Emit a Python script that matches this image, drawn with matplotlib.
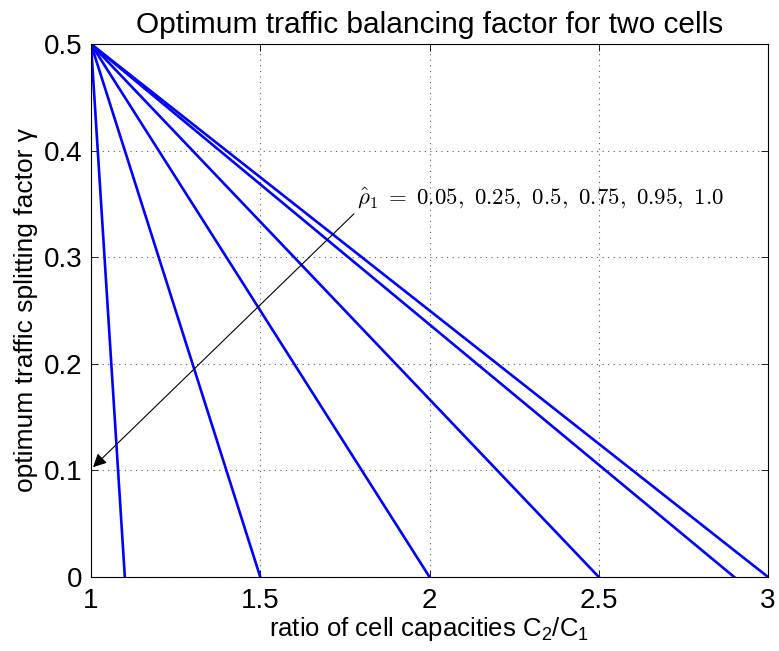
import matplotlib
matplotlib.use("Agg")
import matplotlib.pyplot as plt

rho_labels = ["0.05", "0.25", "0.5", "0.75", "0.95", "1.0"]
ratio_start = [1.0, 1.0, 1.0, 1.0, 1.0, 1.0]
ratio_end = [1.1, 1.5, 2.0, 2.5, 2.9, 3.0]
gamma_start = [0.5, 0.5, 0.5, 0.5, 0.5, 0.5]
gamma_end = [0.0, 0.0, 0.0, 0.0, 0.0, 0.0]
xticks = [1, 1.5, 2, 2.5, 3]
xticklabels = ["1", "1.5", "2", "2.5", "3"]
yticks = [0, 0.1, 0.2, 0.3, 0.4, 0.5]
yticklabels = ["0", "0.1", "0.2", "0.3", "0.4", "0.5"]

plt.rcParams['font.family'] = ['Liberation Sans', 'DejaVu Sans']
plt.rcParams['mathtext.fontset'] = 'custom'
plt.rcParams['mathtext.rm'] = 'Liberation Sans'
plt.rcParams['mathtext.it'] = 'Liberation Sans:italic'

fig = plt.figure(figsize=(7.79, 6.51), dpi=100)
ax = fig.add_axes([0.1168, 0.1137, 0.8691, 0.8187])

for xs, xe, ys, ye in zip(ratio_start, ratio_end, gamma_start, gamma_end):
    ax.plot([xs, xe], [ys, ye], color=(0, 0, 1), lw=1.9)

ax.set_xlim(1, 3)
ax.set_ylim(0, 0.5)
ax.set_xticks(xticks)
ax.set_xticklabels(xticklabels)
ax.set_yticks(yticks)
ax.set_yticklabels(yticklabels)
ax.tick_params(direction='in', top=True, right=True, labelsize=20, length=5, width=0.6)
ax.tick_params(axis='x', pad=8)
ax.tick_params(axis='y', pad=6)
ax.grid(True, linestyle=(0, (1, 4)), color='0.35', lw=0.8)
for s in ax.spines.values():
    s.set_linewidth(0.8)

ax.set_title("Optimum traffic balancing factor for two cells", fontsize=21.5, pad=8)
ax.set_xlabel(r"ratio of cell capacities C$_2$/C$_1$", fontsize=18.5, labelpad=1)
ax.set_ylabel("optimum traffic splitting factor γ", fontsize=19, labelpad=4)

label = r"$\hat{\rho}_1\;=\;" + r",\ ".join(rho_labels) + r"$"
ax.annotate(label, xy=(1.006, 0.103), xytext=(1.785, 0.355),
            fontsize=16.5, math_fontfamily='cm', ha='left', va='center',
            arrowprops=dict(arrowstyle='-|>', color='black', lw=0.8,
                            mutation_scale=20, shrinkA=0, shrinkB=0,
                            relpos=(0, 0)))

fig.savefig("out.png", dpi=100)
